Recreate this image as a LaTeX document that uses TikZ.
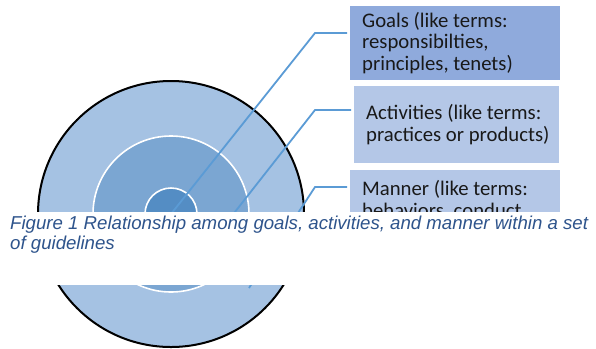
\documentclass[tikz,border=0pt]{standalone}
\usepackage{fontspec}
\setmainfont{Carlito}
\newfontfamily\capfont{Liberation Sans}
\definecolor{ringouter}{RGB}{165,194,227}
\definecolor{ringmid}{RGB}{123,166,210}
\definecolor{ringin}{RGB}{84,141,196}
\definecolor{linkblue}{RGB}{91,155,213}
\definecolor{goalfill}{RGB}{143,170,220}
\definecolor{boxfill}{RGB}{180,199,231}
\definecolor{captxt}{RGB}{46,84,140}
\definecolor{boxtxt}{RGB}{25,25,25}
\tikzset{
  ringnode/.style={circle, inner sep=0pt},
  link/.style={draw=linkblue, line width=1.8bp, shorten >=3bp},
  boxnode/.style={rectangle, inner sep=0pt, anchor=north west, draw=none},
  boxtext/.style={anchor=base west, inner sep=0pt, align=left, text=boxtxt,
    font=\fontsize{20.8}{21.8}\selectfont},
  captext/.style={anchor=base west, inner sep=0pt, align=left, text=captxt,
    font=\capfont\itshape\fontsize{18.7}{19.5}\selectfont}
}
\begin{document}
\begin{tikzpicture}[x=1bp,y=-1bp]
\useasboundingbox (0,0) rectangle (596,348);
\coordinate (c) at (171,214);
\node[ringnode, fill=ringouter, draw=black, line width=2bp, minimum size=266bp] (outer) at (c) {};
\node[ringnode, fill=ringmid, draw=white, line width=1.6bp, minimum size=156bp] (mid) at (c) {};
\node[ringnode, fill=ringin, draw=white, line width=1.6bp, minimum size=52bp] (inner) at (c) {};
% boxes
\node[boxnode, fill=goalfill, minimum width=210bp, minimum height=74bp] (goals) at (350,6) {};
\node[boxnode, fill=boxfill, minimum width=205bp, minimum height=77bp] (acts) at (354,86) {};
\node[boxnode, fill=boxfill, minimum width=210bp, minimum height=60bp] (manner) at (350,170) {};
\node[boxtext] (goalstxt) at (362,70.6) {Goals (like terms:\\responsibilties,\\principles, tenets)};
\node[boxtext] (actstxt) at (366,141) {Activities (like terms:\\practices or products)};
\node[boxtext] (mannertxt) at (362,217) {Manner (like terms:\\behaviors, conduct};
% connectors
\coordinate (g1) at (315,33);
\coordinate (a1) at (315,110);
\coordinate (m1) at (315,187);
\coordinate (a0) at (209,245);
\coordinate (m0) at (249,288);
\draw[link] (c) -- (g1) -- (g1 -| goals.west);
\draw[link] (a0) -- (a1) -- (a1 -| acts.west);
\draw[link] (m0) -- (m1) -- (m1 -| manner.west);
% caption band
\fill[white] (0,212) rectangle (596,285);
\node[captext] (cap) at (10,249.3) {Figure 1 Relationship among goals, activities, and manner within a set\\of guidelines};
\end{tikzpicture}
\end{document}
